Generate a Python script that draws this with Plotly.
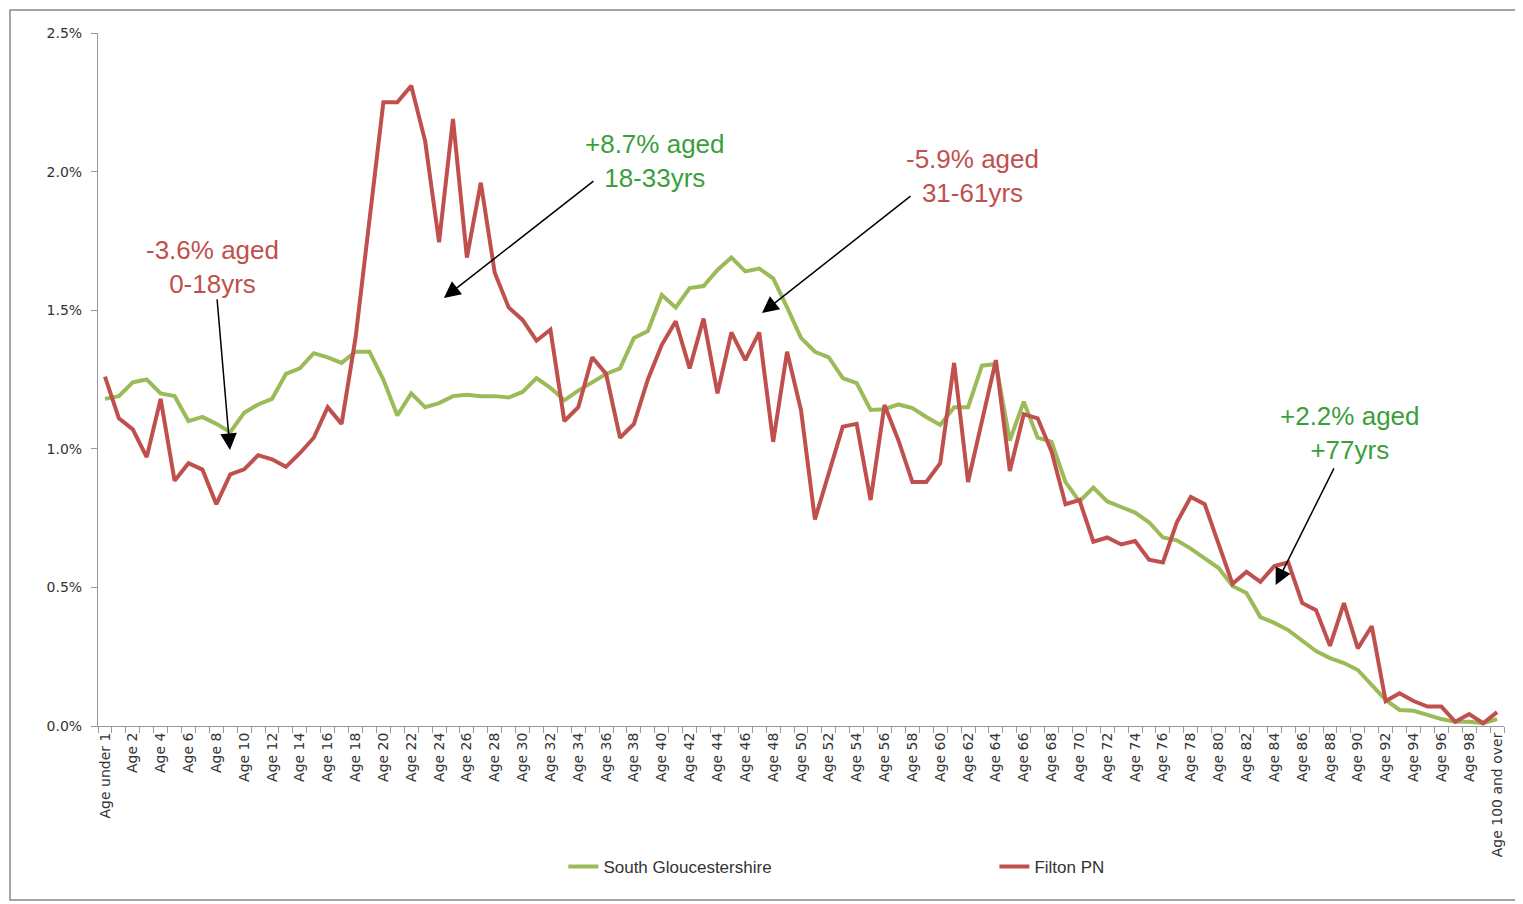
import plotly.graph_objects as go

categories = ["Age under 1"] + [f"Age {i}" for i in range(1, 100)] + ["Age 100 and over"]

south_glos = [1.18, 1.19, 1.24, 1.25, 1.20, 1.19, 1.10, 1.115, 1.09, 1.06,
              1.13, 1.16, 1.18, 1.27, 1.29, 1.345, 1.33, 1.31, 1.35, 1.35,
              1.25, 1.12, 1.20, 1.15, 1.165, 1.19, 1.195, 1.19, 1.19, 1.185,
              1.205, 1.255, 1.22, 1.175, 1.21, 1.24, 1.27, 1.29, 1.40, 1.425,
              1.555, 1.51, 1.58, 1.587, 1.645, 1.69, 1.64, 1.65, 1.615, 1.51,
              1.40, 1.35, 1.33, 1.255, 1.237, 1.14, 1.143, 1.16, 1.147, 1.115,
              1.086, 1.15, 1.15, 1.30, 1.306, 1.03, 1.17, 1.04, 1.025, 0.88,
              0.81, 0.86, 0.81, 0.79, 0.77, 0.735, 0.68, 0.67, 0.64, 0.605,
              0.57, 0.505, 0.48, 0.393, 0.372, 0.346, 0.31, 0.27, 0.245, 0.227,
              0.202, 0.148, 0.094, 0.058, 0.055, 0.04, 0.025, 0.015, 0.015, 0.01,
              0.025]

filton = [1.26, 1.11, 1.07, 0.97, 1.18, 0.885, 0.948, 0.925, 0.80, 0.908,
          0.926, 0.977, 0.962, 0.935, 0.984, 1.04, 1.15, 1.09, 1.40, 1.83,
          2.25, 2.25, 2.31, 2.11, 1.745, 2.19, 1.69, 1.96, 1.635, 1.51,
          1.465, 1.39, 1.43, 1.10, 1.15, 1.33, 1.27, 1.04, 1.09, 1.25,
          1.375, 1.46, 1.29, 1.47, 1.20, 1.42, 1.32, 1.42, 1.025, 1.35,
          1.14, 0.745, 0.91, 1.08, 1.09, 0.815, 1.158, 1.03, 0.88, 0.88,
          0.948, 1.31, 0.88, 1.10, 1.32, 0.92, 1.125, 1.11, 0.99, 0.80,
          0.815, 0.665, 0.68, 0.655, 0.667, 0.60, 0.59, 0.735, 0.826, 0.80,
          0.66, 0.513, 0.556, 0.52, 0.577, 0.59, 0.444, 0.418, 0.289, 0.443,
          0.28, 0.36, 0.09, 0.118, 0.09, 0.07, 0.07, 0.015, 0.043, 0.01,
          0.05]

tick_text = [c if i % 2 == 0 else "" for i, c in enumerate(categories)]
y_ticks = [0.0, 0.5, 1.0, 1.5, 2.0, 2.5]
y_tick_text = ["0.0%", "0.5%", "1.0%", "1.5%", "2.0%", "2.5%"]

GREEN = "#9BBB59"
RED = "#C0504D"
TXT_RED = "#C0504D"
TXT_GREEN = "#3A9F3A"

fig = go.Figure()
fig.add_trace(go.Scatter(x=categories, y=south_glos, mode="lines",
                         name="South Gloucestershire",
                         line=dict(color=GREEN, width=4)))
fig.add_trace(go.Scatter(x=categories, y=filton, mode="lines",
                         name="Filton PN",
                         line=dict(color=RED, width=4)))

fig.update_layout(
    width=1515, height=896,
    margin=dict(l=90, r=19, t=25, b=178),
    paper_bgcolor="white", plot_bgcolor="white",
    font=dict(family="DejaVu Sans", color="#333333"),
    showlegend=True,
    legend=dict(orientation="h", x=0.331, xanchor="left", y=-0.2035, yanchor="middle",
                entrywidth=386, entrywidthmode="pixels",
                font=dict(family="Liberation Sans", size=17, color="#333333"),
                bgcolor="rgba(0,0,0,0)"),
    xaxis=dict(type="category", tickmode="array", tickvals=categories, ticktext=tick_text,
               range=[-0.5, len(categories) - 0.5],
               tickangle=-90, tickson="boundaries", ticks="outside", ticklen=6,
               tickcolor="#999999", showline=True, linecolor="#999999", linewidth=1,
               showgrid=False, zeroline=False,
               tickfont=dict(family="DejaVu Sans", size=14, color="#333333")),
    yaxis=dict(range=[0, 2.5], tickmode="array", tickvals=y_ticks, ticktext=y_tick_text,
               ticks="outside", ticklen=6, tickcolor="#999999",
               showline=True, linecolor="#999999", linewidth=1,
               showgrid=False, zeroline=False, ticklabelstandoff=6,
               tickfont=dict(family="DejaVu Sans", size=14, color="#333333")),
)

# outer chart frame
fig.add_shape(type="rect", xref="paper", yref="paper",
              x0=-0.0626, x1=1.012, y0=-0.251, y1=1.0332,
              line=dict(color="#888888", width=1.5), fillcolor="rgba(0,0,0,0)",
              layer="below")

ann_font = dict(family="Liberation Sans", size=26)
labels = [
    (7.76, 1.656, "-3.6% aged<br>0-18yrs", TXT_RED),
    (39.5, 2.038, "+8.7% aged<br>18-33yrs", TXT_GREEN),
    (62.3, 1.984, "-5.9% aged<br>31-61yrs", TXT_RED),
    (89.44, 1.057, "+2.2% aged<br>+77yrs", TXT_GREEN),
]
for x, y, t, c in labels:
    fig.add_annotation(x=x, y=y, text=t, showarrow=False,
                       font=dict(ann_font, color=c), align="center",
                       xanchor="center", yanchor="middle")

arrows = [
    (8.98, 0.996, -13, -152),
    (24.35, 1.544, 151, -118),
    (47.2, 1.49, 150, -118),
    (84.1, 0.509, 59, -118),
]
for x, y, ax, ay in arrows:
    fig.add_annotation(x=x, y=y, ax=ax, ay=ay, text="", showarrow=True,
                       arrowhead=2, arrowsize=2.2, arrowwidth=1.5,
                       arrowcolor="black")

fig.write_html("out.html")
